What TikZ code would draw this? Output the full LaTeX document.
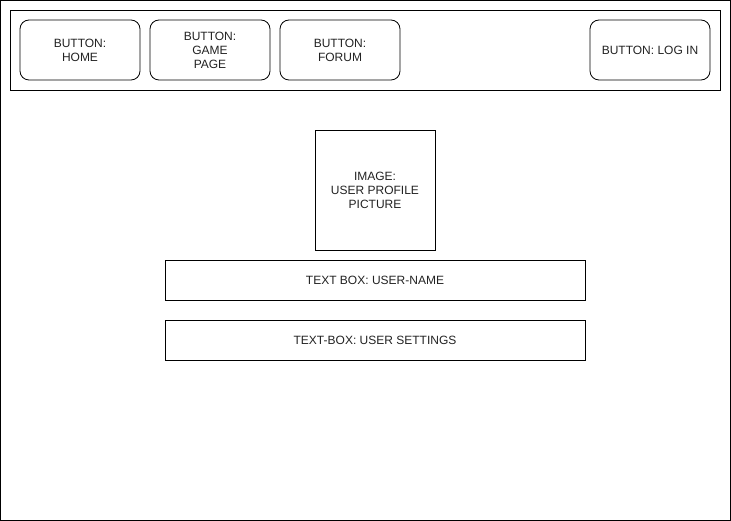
\documentclass[tikz,border=0pt]{standalone}
\usepackage{fontspec}
\setmainfont{Liberation Sans}
\definecolor{ink}{HTML}{222222}
\tikzset{ btn/.style = { rectangle
                       , draw
                       , rounded corners = 9pt
                       , align          = center
                       , text           = ink
                       , minimum width  = 120pt
                       , minimum height = 60pt
                       },
          box/.style = { rectangle
                       , draw
                       , align          = center
                       , text           = ink
                       , inner sep      = 0pt
                       }
        }

\begin{document}
\begin{tikzpicture}[x=1pt, y=-1pt, line width=0.8pt,
                    font=\fontsize{12}{14}\selectfont]
    \useasboundingbox (0,0) rectangle (731,521);
    \draw (0.5,0.5) rectangle (730.5,520.5);
    % top bar with the buttons
    \node[box, minimum width=710pt, minimum height=80pt] (bar) at (365,50) {};
    \foreach \n/\x/\t in {home/80/{BUTTON:\\HOME},
                          game/210/{BUTTON:\\GAME\\PAGE},
                          forum/340/{BUTTON:\\FORUM},
                          login/650/{BUTTON: LOG IN}} {
      \node[btn] (\n) at (\x,50) {\t};
    }
    % profile content
    \node[box, minimum width=120pt, minimum height=120pt] (pic) at (375,190)
        {IMAGE:\\USER PROFILE\\PICTURE};
    \node[box, minimum width=420pt, minimum height=40pt] (uname) at (375,280)
        {TEXT BOX: USER-NAME};
    \node[box, minimum width=420pt, minimum height=40pt] (settings) at (375,340)
        {TEXT-BOX: USER SETTINGS};
\end{tikzpicture}
\end{document}
